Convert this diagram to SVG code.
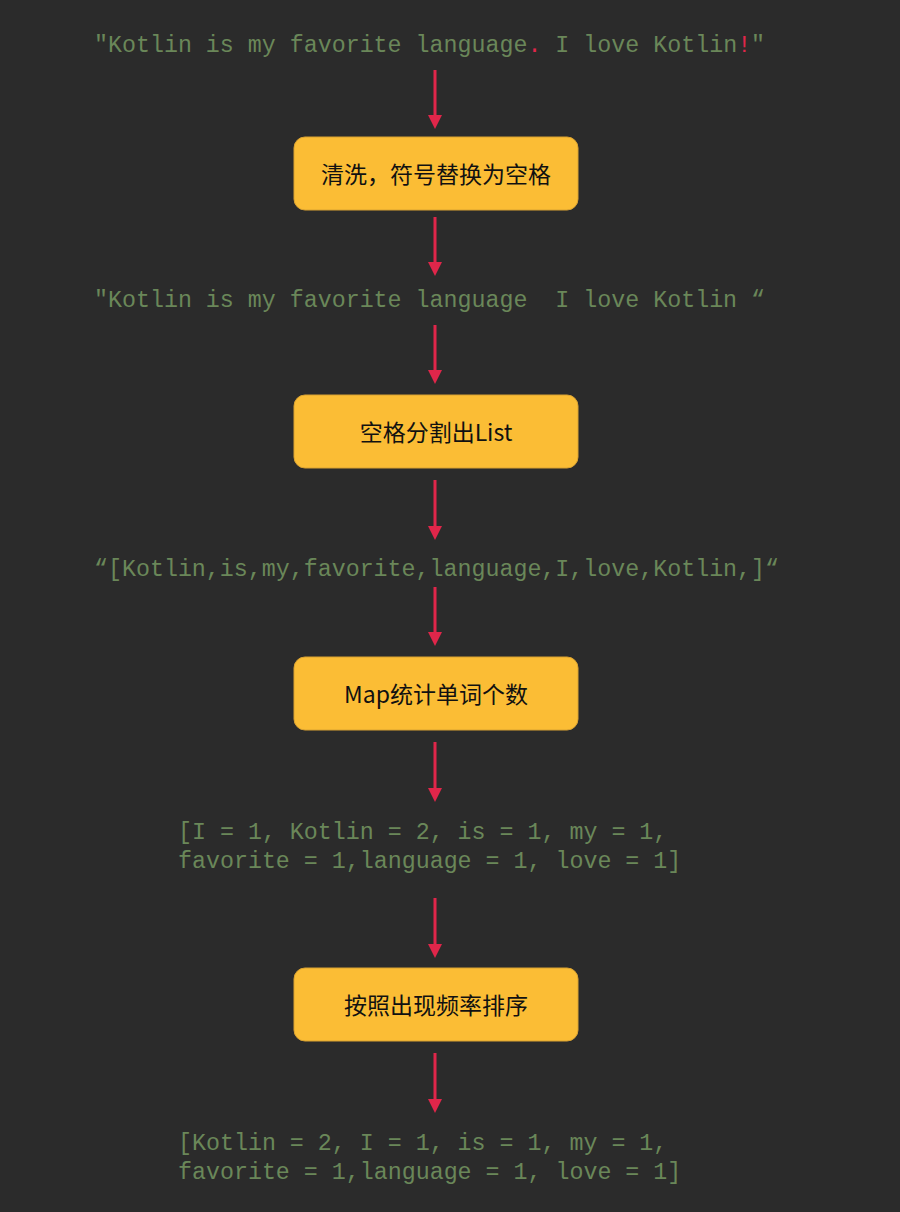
<svg xmlns="http://www.w3.org/2000/svg" width="900" height="1212" viewBox="0 0 900 1212">
<defs>
<style>
.code{font-family:"Liberation Mono","Courier New",monospace;font-size:23.3px;fill:#6a8759;white-space:pre}
.red{fill:#e0264a}
.box{fill:#fbbd35;stroke:#d9a232;stroke-width:1}
.lbl{font-family:"Noto Sans CJK SC","Noto Sans",sans-serif;font-size:23px;font-weight:400;fill:#111;text-anchor:middle;dominant-baseline:central}
.conn{stroke:#e0264a;stroke-width:3;fill:none}
</style>
</defs>
<rect width="900" height="1212" fill="#2b2b2b"/>

<g id="connectors">
<line class="conn" x1="435" y1="70" x2="435" y2="116"/><path class="red" d="M428,115 L442,115 L435,129 Z"/>
<line class="conn" x1="435" y1="217" x2="435" y2="263"/><path class="red" d="M428,262 L442,262 L435,276 Z"/>
<line class="conn" x1="435" y1="325" x2="435" y2="371"/><path class="red" d="M428,370 L442,370 L435,384 Z"/>
<line class="conn" x1="435" y1="480" x2="435" y2="527"/><path class="red" d="M428,526 L442,526 L435,540 Z"/>
<line class="conn" x1="435" y1="587" x2="435" y2="633"/><path class="red" d="M428,632 L442,632 L435,646 Z"/>
<line class="conn" x1="435" y1="742" x2="435" y2="789"/><path class="red" d="M428,788 L442,788 L435,802 Z"/>
<line class="conn" x1="435" y1="898" x2="435" y2="945"/><path class="red" d="M428,944 L442,944 L435,958 Z"/>
<line class="conn" x1="435" y1="1053" x2="435" y2="1100"/><path class="red" d="M428,1099 L442,1099 L435,1113 Z"/>
</g>

<g id="t1"><text class="code" x="94" y="52">"Kotlin is my favorite language<tspan class="red">.</tspan> I love Kotlin<tspan class="red">!</tspan>"</text></g>

<g id="n1"><rect class="box" x="294" y="137" width="284" height="73" rx="11"/><text class="lbl" x="436" y="173">清洗，符号替换为空格</text></g>

<g id="t2"><text class="code" x="94" y="307">"Kotlin is my favorite language  I love Kotlin “</text></g>

<g id="n2"><rect class="box" x="294" y="395" width="284" height="73" rx="11"/><text class="lbl" x="436" y="431">空格分割出List</text></g>

<g id="t3"><text class="code" x="94" y="576">“[Kotlin,is,my,favorite,language,I,love,Kotlin,]“</text></g>

<g id="n3"><rect class="box" x="294" y="657" width="284" height="73" rx="11"/><text class="lbl" x="436" y="693">Map统计单词个数</text></g>

<g id="t4"><text class="code" x="178" y="839">[I = 1, Kotlin = 2, is = 1, my = 1,</text><text class="code" x="178" y="868">favorite = 1,language = 1, love = 1]</text></g>

<g id="n4"><rect class="box" x="294" y="968" width="284" height="73" rx="11"/><text class="lbl" x="436" y="1004">按照出现频率排序</text></g>

<g id="t5"><text class="code" x="178" y="1150">[Kotlin = 2, I = 1, is = 1, my = 1,</text><text class="code" x="178" y="1179">favorite = 1,language = 1, love = 1]</text></g>
</svg>
